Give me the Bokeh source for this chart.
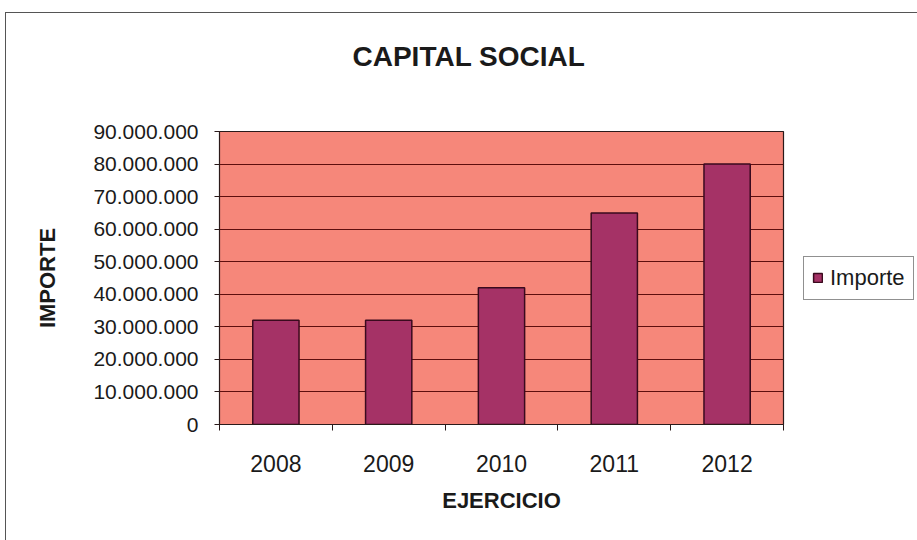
from bokeh.plotting import figure
from bokeh.models import (Range1d, FixedTicker, CustomJSTickFormatter, Legend,
                          LegendItem, ColumnDataSource, Title)
from bokeh.embed import file_html
from bokeh.resources import INLINE

# ---- data ----
years = ["2008", "2009", "2010", "2011", "2012"]
importe = [32000000, 32000000, 42000000, 65000000, 80000000]
y_ticks = [0, 10000000, 20000000, 30000000, 40000000, 50000000,
           60000000, 70000000, 80000000, 90000000]
series_name = "Importe"
title_text = "CAPITAL SOCIAL"

xs = [i + 0.5 for i in range(len(years))]
src = ColumnDataSource(dict(x=xs, top=importe, year=years))

FONT = "Liberation Sans"

p = figure(frame_width=564, frame_height=293, output_backend="svg", toolbar_location=None,
           x_range=Range1d(0, len(years)), y_range=Range1d(0, y_ticks[-1]),
           min_border_left=213, min_border_right=135, min_border_top=118,
           min_border_bottom=117, margin=(12, 0, 0, 5),
           styles={"border-top": "1px solid #555555", "border-left": "1px solid #555555"})

p.background_fill_color = "#F6877A"
p.border_fill_color = "white"
p.outline_line_color = "#2a1a1a"
p.outline_line_width = 1.2

# spacer (closest to the frame) then the real title
p.add_layout(Title(text=" ", text_font_size="10px", standoff=42), "above")
p.add_layout(Title(text=title_text, align="left", offset=133, standoff=10,
                   text_font=FONT, text_font_size="28px", text_font_style="bold",
                   text_color="#1a1a1a"), "above")

r = p.vbar(x="x", top="top", width=0.41, source=src, fill_color="#A53266",
           line_color="#3a0a1e", line_width=1.5)

# grid
p.xgrid.grid_line_color = None
p.ygrid.ticker = FixedTicker(ticks=y_ticks)
p.ygrid.grid_line_color = "#5e0e0e"
p.ygrid.grid_line_width = 1.2
p.ygrid.level = "underlay"

# y axis
p.yaxis.ticker = FixedTicker(ticks=y_ticks)
p.yaxis.formatter = CustomJSTickFormatter(code="""
    return Math.round(tick).toString().replace(/\\B(?=(\\d{3})+(?!\\d))/g, '.');
""")
p.yaxis.major_label_text_font = FONT
p.yaxis.major_label_text_font_size = "21px"
p.yaxis.major_label_text_color = "#1a1a1a"
p.yaxis.major_tick_out = 5
p.yaxis.major_tick_in = 0
p.yaxis.minor_tick_line_color = None
p.yaxis.major_label_standoff = 16
p.yaxis.axis_line_color = "#2a1a1a"
p.yaxis.major_tick_line_color = "#2a1a1a"
p.yaxis.axis_label = "IMPORTE"
p.yaxis.axis_label_text_font = FONT
p.yaxis.axis_label_text_font_size = "22px"
p.yaxis.axis_label_text_font_style = "bold"
p.yaxis.axis_label_text_color = "#1a1a1a"
p.yaxis.axis_label_standoff = 30

# x axis: labels at centres, tick marks at category boundaries
p.xaxis.ticker = FixedTicker(ticks=xs, minor_ticks=list(range(len(years) + 1)))
p.xaxis.major_label_overrides = {x: y for x, y in zip(xs, years)}
p.xaxis.major_label_text_font = FONT
p.xaxis.major_label_text_font_size = "23px"
p.xaxis.major_label_text_color = "#1a1a1a"
p.xaxis.major_tick_out = 0
p.xaxis.major_tick_in = 0
p.xaxis.minor_tick_out = 6
p.xaxis.minor_tick_in = 0
p.xaxis.minor_tick_line_color = "#2a1a1a"
p.xaxis.axis_line_color = "#2a1a1a"
p.xaxis.major_label_standoff = 24
p.xaxis.axis_label = "EJERCICIO"
p.xaxis.axis_label_text_font = FONT
p.xaxis.axis_label_text_font_size = "22px"
p.xaxis.axis_label_text_font_style = "bold"
p.xaxis.axis_label_text_color = "#1a1a1a"
p.xaxis.axis_label_standoff = 13

legend = Legend(items=[LegendItem(label=series_name, renderers=[r])],
                location="center_left", margin=20, padding=8, spacing=0,
                border_line_color="#222222", border_line_width=1,
                background_fill_color="white", background_fill_alpha=1,
                label_text_font=FONT, label_text_font_size="22px",
                label_text_color="#1a1a1a", glyph_width=11, glyph_height=11,
                label_standoff=7)
p.add_layout(legend, "right")

open("out.html", "w").write(file_html(p, INLINE))
